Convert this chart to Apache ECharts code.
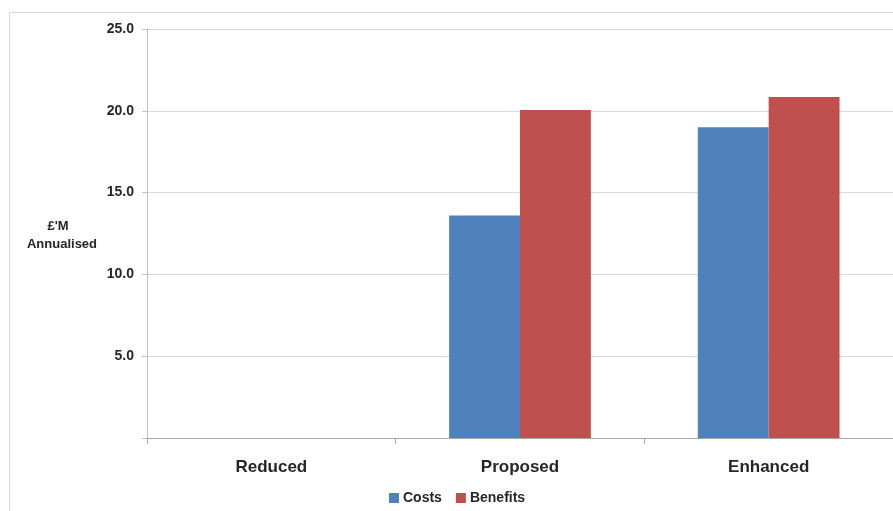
<!DOCTYPE html>
<html>
<head>
<meta charset="utf-8">
<script src="https://cdn.jsdelivr.net/npm/echarts@6/dist/echarts.min.js"></script>
<style>html,body{margin:0;padding:0;background:#fff}#c{width:893px;height:511px}</style>
</head>
<body>
<div id="c"></div>
<script>
const categories = ['Reduced', 'Proposed', 'Enhanced'];
const costs = [0, 13.6, 19.0];
const benefits = [0, 20.05, 20.85];
const yTicks = [0, 5, 10, 15, 20, 25];

const chart = echarts.init(document.getElementById('c'));
const font = 'Liberation Sans, Arial, sans-serif';
chart.setOption({
  animation: false,
  textStyle: { fontFamily: font },
  graphic: [
    { type: 'rect', shape: { x: 9.5, y: 12.5, width: 1000, height: 600 },
      style: { fill: 'none', stroke: '#d9d9d9', lineWidth: 1 }, silent: true },
    { type: 'text', x: 58, y: 226,
      style: { text: "£'M", fill: '#262626', font: 'bold 13px ' + font,
        textAlign: 'center', textVerticalAlign: 'middle' } },
    { type: 'text', x: 62, y: 244,
      style: { text: "Annualised", fill: '#262626', font: 'bold 13px ' + font,
        textAlign: 'center', textVerticalAlign: 'middle' } }
  ],
  grid: { left: 147, right: 0, top: 29, bottom: 73, containLabel: false },
  legend: {
    left: 384, bottom: 1, itemWidth: 10, itemHeight: 10, itemGap: 14,
    icon: 'rect',
    textStyle: { fontSize: 14, fontWeight: 'bold', color: '#262626', fontFamily: font, padding: [0, 0, 0, -1] },
    data: ['Costs', 'Benefits']
  },
  xAxis: {
    type: 'category', data: categories,
    axisLine: { lineStyle: { color: '#a6a6a6' } },
    axisTick: { show: true, length: 6, lineStyle: { color: '#a6a6a6' } },
    axisLabel: { fontSize: 17, fontWeight: 'bold', color: '#262626', margin: 21 }
  },
  yAxis: {
    type: 'value', min: 0, max: 25, interval: 5,
    axisLine: { show: true, lineStyle: { color: '#bfbfbf' } },
    axisTick: { show: true, length: 5, lineStyle: { color: '#bfbfbf' } },
    splitLine: { lineStyle: { color: '#d9d9d9' } },
    axisLabel: { fontSize: 14, fontWeight: 'bold', color: '#262626', margin: 13,
      formatter: v => (v === 0 ? '' : yTicks.includes(v) ? v.toFixed(1) : '') }
  },
  series: [
    { name: 'Costs', type: 'bar', data: costs, barGap: '0%', barCategoryGap: '43%',
      itemStyle: { color: '#4F81BD' } },
    { name: 'Benefits', type: 'bar', data: benefits, barGap: '0%', barCategoryGap: '43%',
      itemStyle: { color: '#C0504D' } }
  ]
});
</script>
</body>
</html>
